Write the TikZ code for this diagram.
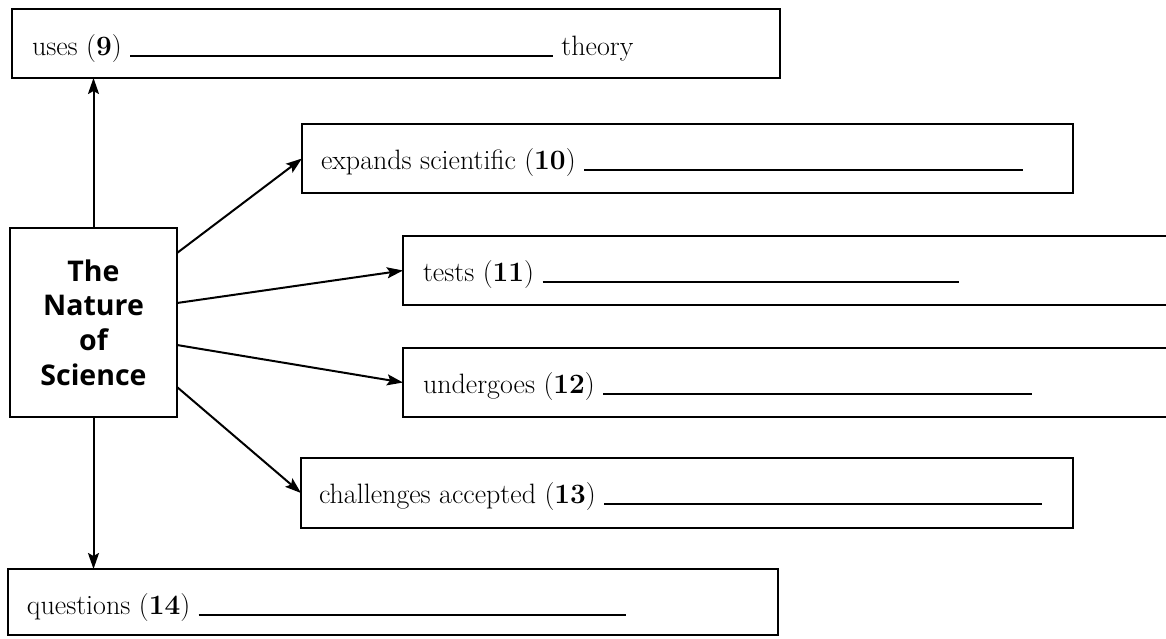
\documentclass[tikz,border=0pt]{standalone}
\usepackage{fontspec}
\newfontfamily\natfont{Open Sans}
\usetikzlibrary{arrows.meta}
\newcommand\myfill{\leavevmode\leaders\hrule height 0pt depth 1.5pt\hfill\kern0pt}
\tikzset{
  box/.style={draw, line width=2.3pt, anchor=north west, inner sep=0pt, outer sep=0pt},
  lbl/.style={anchor=base west, inner sep=0pt, outer sep=0pt, font=\fontsize{28}{32}\selectfont},
  arr/.style={line width=2pt, -{Stealth[length=16pt,width=11pt,inset=3pt]}},
}
\begin{document}
\begin{tikzpicture}[x=1pt,y=-1pt]
\clip (0,0) rectangle (1166,638);
\fill[white] (0,0) rectangle (1166,638);
% boxes
\node[box, minimum width=768pt, minimum height=69pt] (B1) at (12,9) {};
\node[box, minimum width=771pt, minimum height=69pt] (B2) at (302,124) {};
\node[box, minimum width=780pt, minimum height=69pt] (B3) at (403,236) {};
\node[box, minimum width=780pt, minimum height=69pt] (B4) at (403,348) {};
\node[box, minimum width=772pt, minimum height=70pt] (B5) at (301,458) {};
\node[box, minimum width=770pt, minimum height=66pt] (B6) at (8,569) {};
\node[box, minimum width=167pt, minimum height=189pt, align=center,
      font=\natfont\bfseries\fontsize{28.5}{34.7}\selectfont] (C) at (10,228)
      {The\\Nature\\of\\Science};
% texts
\node[lbl] (T1) at (32,55) {\makebox[521pt][l]{uses (\textbf{9})\ \myfill}\ theory};
\node[lbl] (T2) at (321,169) {\makebox[702pt][l]{expands scientific (\textbf{10})\ \myfill}};
\node[lbl] (T3) at (423,281) {\makebox[536pt][l]{tests (\textbf{11})\ \myfill}};
\node[lbl] (T4) at (423,393) {\makebox[609pt][l]{undergoes (\textbf{12})\ \myfill}};
\node[lbl] (T5) at (319,503) {\makebox[723pt][l]{challenges accepted (\textbf{13})\ \myfill}};
\node[lbl] (T6) at (27,614) {\makebox[599pt][l]{questions (\textbf{14})\ \myfill}};
% connectors
\draw[arr] (C.north) -- (B1.south -| C.north);
\draw[arr] (C.south) -- (B6.north -| C.south);
\draw[arr] ([yshift=-25pt]C.north east) -- (B2.west);
\draw[arr] ([yshift=-75pt]C.north east) -- (B3.west);
\draw[arr] ([yshift=-117pt]C.north east) -- (B4.west);
\draw[arr] ([yshift=-159pt]C.north east) -- (B5.west);
\end{tikzpicture}
\end{document}
